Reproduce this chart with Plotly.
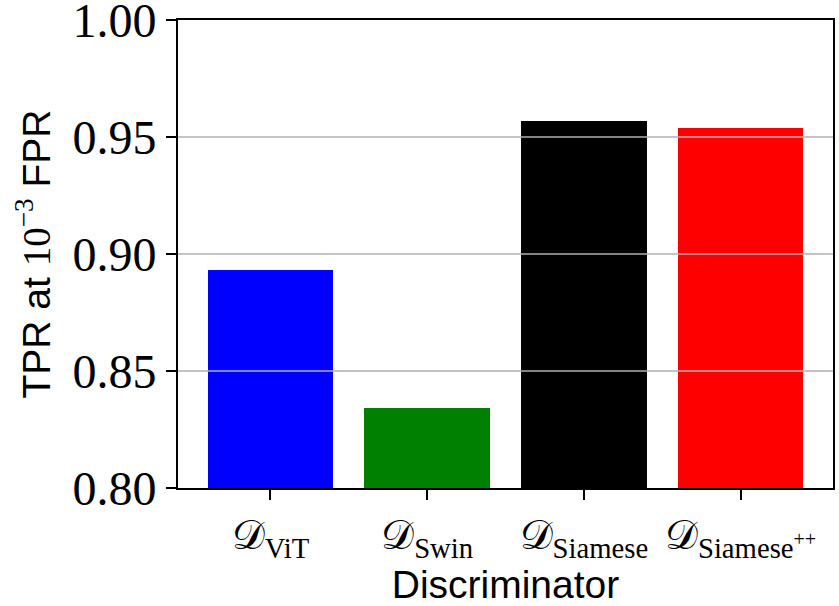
import plotly.graph_objects as go

categories = ["ViT", "Swin", "Siamese", "Siamese++"]
sub_labels = ["ViT", "Swin", "Siamese", "Siamese<sup>++</sup>"]
values = [0.893, 0.834, 0.957, 0.954]
colors = ["#0000ff", "#008000", "#000000", "#ff0000"]
y_ticks = [0.80, 0.85, 0.90, 0.95, 1.00]
y_tick_text = ["0.80", "0.85", "0.90", "0.95", "1.00"]
grid_vals = [0.85, 0.90, 0.95]

serif = "Liberation Serif"
sans = "Liberation Sans"

tick_labels = ["𝒟<sub>%s</sub>" % s for s in sub_labels]

x_pos = list(range(len(categories)))

fig = go.Figure()
fig.add_trace(go.Bar(
    x=x_pos, y=values, width=0.8,
    marker=dict(color=colors, line=dict(width=0)),
))

for g in grid_vals:
    fig.add_shape(type="line", xref="x domain", yref="y", x0=0, x1=1, y0=g, y1=g,
                  line=dict(color="#b0b0b0", width=1.5), layer="above")

fig.update_layout(
    width=839, height=606,
    margin=dict(l=178, r=6, t=20, b=118),
    plot_bgcolor="white", paper_bgcolor="white",
    showlegend=False,
    bargap=0,
)
fig.update_xaxes(
    range=[-0.59, 3.59], automargin=False,
    tickmode="array", tickvals=x_pos, ticktext=tick_labels,
    tickfont=dict(family=serif, size=41, color="black"),
    ticks="outside", ticklen=10, tickwidth=2, tickcolor="black",
    showline=True, linecolor="black", linewidth=2, mirror=True,
    showgrid=False, zeroline=False, ticklabeloverflow="allow",
    title=dict(text="Discriminator", font=dict(family=sans, size=39, color="black"), standoff=0),
)
fig.update_yaxes(
    range=[0.80, 1.00], automargin=False,
    tickmode="array", tickvals=y_ticks, ticktext=y_tick_text,
    tickfont=dict(family=serif, size=48, color="black"),
    ticks="outside", ticklen=10, tickwidth=2, tickcolor="black",
    showline=True, linecolor="black", linewidth=2, mirror=True,
    showgrid=False, zeroline=False, ticklabeloverflow="allow",
    title=dict(text="TPR at <span style=\"font-family:'Liberation Serif'\">10<sup>−3</sup></span> FPR",
               font=dict(family=sans, size=39, color="black"), standoff=10),
)

fig.write_html("out.html")
